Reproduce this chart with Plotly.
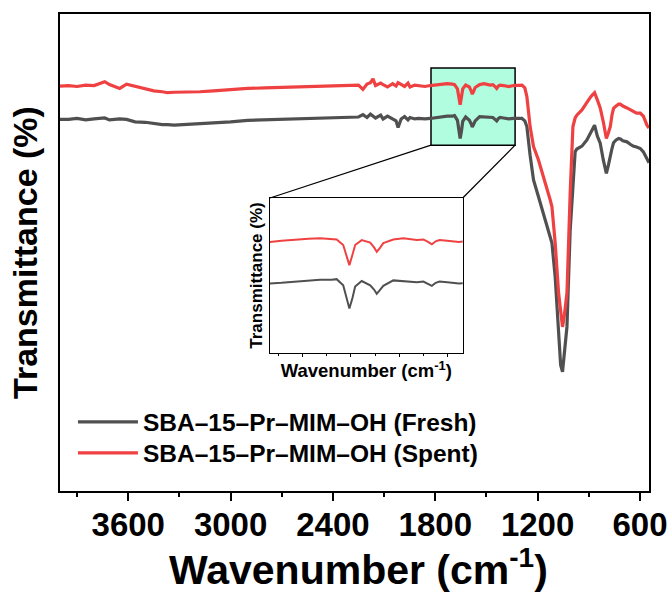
import plotly.graph_objects as go

# ---------------- data ----------------
wavenumber = [4000, 3950, 3900, 3850, 3800, 3760, 3738, 3710, 3680, 3650, 3610, 3560, 3500, 3450,
              3400, 3370, 3330, 3280, 3220, 3180, 3100, 3000, 2900, 2800, 2700, 2600, 2500, 2400,
              2300, 2250, 2224, 2200, 2180, 2165, 2150, 2120, 2106, 2080, 2050, 2030, 2018, 2000,
              1980, 1960, 1948, 1920, 1900, 1860, 1830, 1791, 1760, 1730, 1700, 1687, 1670, 1662,
              1654, 1646, 1639, 1622, 1600, 1590, 1583, 1575, 1566, 1540, 1514, 1479, 1462, 1450,
              1440, 1430, 1420, 1400, 1370, 1340, 1310, 1292, 1275, 1263, 1244, 1234, 1224, 1195,
              1146, 1126, 1116, 1097, 1077, 1065, 1054, 1043, 1028, 1009, 993, 980, 970, 940,
              911, 901, 885, 866, 850, 843, 833, 815, 797, 785, 774, 764, 755, 740,
              725, 715, 700, 676, 657, 640, 620, 598, 580, 559, 547]

fresh = [77.9, 77.9, 78.1, 77.8, 78.0, 78.1, 78.2, 77.8, 77.9, 78.0, 77.9, 77.4, 77.3, 77.0,
         76.8, 76.8, 76.7, 76.8, 76.9, 77.0, 77.2, 77.4, 77.7, 77.8, 77.9, 78.0, 78.0, 78.1,
         78.2, 78.4, 78.9, 78.3, 79.0, 78.5, 78.2, 78.8, 78.0, 78.6, 78.1, 77.6, 76.2, 78.0,
         78.5, 77.8, 78.3, 78.0, 78.1, 78.0, 78.1, 78.3, 78.5, 78.6, 78.6, 78.7, 77.7, 75.8,
         73.9, 75.6, 77.5, 78.4, 77.7, 77.0, 76.3, 76.9, 77.6, 78.5, 78.4, 78.2, 78.3, 77.9,
         77.6, 78.1, 78.3, 78.2, 78.0, 78.1, 78.1, 78.1, 77.6, 76.4, 70.4, 67.3, 65.2, 61.7,
         55.5, 53.3, 52.0, 44.9, 34.8, 26.4, 25.0, 28.5, 34.4, 54.7, 64.1, 71.1, 71.7, 72.3,
         73.6, 74.3, 75.5, 76.7, 74.4, 73.6, 72.9, 69.4, 66.6, 68.3, 70.4, 71.8, 73.0, 73.6,
         73.9, 73.8, 73.4, 73.2, 72.7, 72.3, 72.1, 71.8, 71.1, 69.4, 68.8]

spent = [84.9, 85.0, 84.8, 85.1, 85.0, 85.5, 85.8, 85.2, 84.8, 84.4, 85.3, 84.9, 84.3, 83.9,
         83.7, 83.5, 83.6, 83.6, 83.7, 83.7, 83.9, 84.2, 84.4, 84.5, 84.6, 84.7, 84.8, 84.9,
         85.0, 85.1, 84.2, 85.3, 85.6, 86.4, 85.0, 85.5, 85.2, 84.7, 85.4, 84.9, 85.6, 85.2,
         84.8, 85.5, 84.7, 85.1, 85.0, 84.8, 85.0, 85.1, 85.3, 85.4, 85.3, 85.2, 84.3, 82.6,
         81.0, 82.7, 84.3, 85.1, 84.7, 83.9, 83.2, 83.8, 84.6, 85.2, 85.4, 85.1, 85.2, 84.8,
         84.4, 84.9, 85.1, 85.0, 84.8, 85.0, 85.1, 85.1, 84.5, 82.7, 76.4, 74.2, 72.2, 69.4,
         63.8, 61.0, 59.6, 52.0, 41.5, 36.9, 34.4, 36.9, 41.5, 62.5, 76.4, 78.2, 78.8, 79.9,
         81.6, 82.0, 82.8, 83.5, 82.0, 81.3, 80.3, 77.4, 73.9, 75.1, 76.4, 78.8, 80.2, 80.7,
         81.1, 81.1, 80.7, 80.3, 79.9, 79.5, 79.2, 79.2, 78.6, 76.7, 76.1]

series_names = ["SBA\u201315\u2013Pr\u2013MIM\u2013OH (Fresh)", "SBA\u201315\u2013Pr\u2013MIM\u2013OH (Spent)"]
series_colors = ["#505050", "#ef4141"]

x_tick_values = [3600, 3000, 2400, 1800, 1200, 600]
x_tick_labels = ["3600", "3000", "2400", "1800", "1200", "600"]
x_title = "Wavenumber (cm<sup><span style='font-size:28px'>-1</span></sup>)"

# ---------------- axes / layout settings ----------------
X_RANGE = [4000, 547]
Y_RANGE = [0, 100]
ZOOM_X = [1825, 1332]      # highlighted region (wavenumber)
ZOOM_Y = [72.5, 88.7]      # highlighted region (transmittance)
INSET_X = [1860, 1360]
INSET_Y = [66.6, 92.0]
INSET_DOM_X = [0.3565, 0.6837]
INSET_DOM_Y = [0.2893, 0.6143]

FONT = "Liberation Sans, Arial, sans-serif"

fig = go.Figure()

legend_ids = ["legend", "legend2"]
for name, vals, col, lg in zip(series_names, [fresh, spent], series_colors, legend_ids):
    fig.add_trace(go.Scatter(x=wavenumber, y=vals, mode="lines", name=name, legend=lg,
                             line=dict(color=col, width=3.2), xaxis="x", yaxis="y"))
for name, vals, col in zip(series_names, [fresh, spent], series_colors):
    fig.add_trace(go.Scatter(x=wavenumber, y=vals, mode="lines", name=name, showlegend=False,
                             line=dict(color=col, width=2), xaxis="x2", yaxis="y2"))

def px_frac(wn):
    return (X_RANGE[0] - wn) / (X_RANGE[0] - X_RANGE[1])

def py_frac(t):
    return (t - Y_RANGE[0]) / (Y_RANGE[1] - Y_RANGE[0])

shapes = [
    dict(type="rect", xref="x", yref="y", x0=ZOOM_X[0], x1=ZOOM_X[1], y0=ZOOM_Y[0], y1=ZOOM_Y[1],
         fillcolor="#b0fde0", line=dict(color="black", width=1.5), layer="below"),
    dict(type="line", xref="paper", yref="paper",
         x0=px_frac(ZOOM_X[0]), y0=py_frac(ZOOM_Y[0]), x1=INSET_DOM_X[0], y1=INSET_DOM_Y[1],
         line=dict(color="black", width=1.2)),
    dict(type="line", xref="paper", yref="paper",
         x0=px_frac(ZOOM_X[1]), y0=py_frac(ZOOM_Y[0]), x1=INSET_DOM_X[1], y1=INSET_DOM_Y[1],
         line=dict(color="black", width=1.2)),
]

annotations = [
    dict(text=x_title, xref="paper", yref="paper", x=0.506, y=-0.16,
         xanchor="center", yanchor="middle", showarrow=False,
         font=dict(family=FONT, size=41, weight="bold", color="black")),
]

legend_font = dict(family=FONT, size=24.5, weight="bold", color="black")

fig.update_layout(
    width=671, height=595,
    margin=dict(l=60, r=22, t=14, b=104),
    paper_bgcolor="white", plot_bgcolor="white",
    font=dict(family=FONT, color="black"),
    shapes=shapes,
    annotations=annotations,
    showlegend=True,
    legend=dict(x=0.022, y=0.192, xanchor="left", yanchor="top",
                bgcolor="rgba(0,0,0,0)", itemwidth=60, font=legend_font),
    legend2=dict(x=0.022, y=0.127, xanchor="left", yanchor="top",
                 bgcolor="rgba(0,0,0,0)", itemwidth=60, font=legend_font),
    xaxis=dict(range=X_RANGE, autorange=False, domain=[0, 1], automargin=False,
               tickvals=x_tick_values, ticktext=x_tick_labels,
               ticks="outside", ticklen=8, tickwidth=2, tickcolor="black",
               ticklabelstandoff=-5,
               minor=dict(dtick=300, tick0=600, ticks="outside", ticklen=4, tickwidth=2, tickcolor="black"),
               showline=True, linecolor="black", linewidth=2, mirror=True,
               showgrid=False, zeroline=False,
               tickfont=dict(family=FONT, size=33, weight="bold", color="black")),
    yaxis=dict(range=Y_RANGE, autorange=False, domain=[0, 1], automargin=False,
               showticklabels=False, ticks="",
               showline=True, linecolor="black", linewidth=2, mirror=True,
               showgrid=False, zeroline=False,
               title=dict(text="Transmittance (%)", standoff=10,
                          font=dict(family=FONT, size=34, weight="bold", color="black"))),
    xaxis2=dict(range=INSET_X, autorange=False, domain=INSET_DOM_X, anchor="y2", automargin=False,
                dtick=125, tick0=1400, showticklabels=False,
                ticks="outside", ticklen=3, tickwidth=1, tickcolor="black",
                minor=dict(dtick=62.5, tick0=1400, ticks="outside", ticklen=2, tickwidth=1, tickcolor="black"),
                showline=True, linecolor="black", linewidth=1, mirror=True,
                showgrid=False, zeroline=False,
                title=dict(text="Wavenumber (cm<sup>-1</sup>)", standoff=8,
                           font=dict(family=FONT, size=18.5, weight="bold", color="black"))),
    yaxis2=dict(range=INSET_Y, autorange=False, domain=INSET_DOM_Y, anchor="x2", automargin=False,
                showticklabels=False, ticks="",
                showline=True, linecolor="black", linewidth=1, mirror=True,
                showgrid=False, zeroline=False,
                title=dict(text="Transmittance (%)", standoff=2,
                           font=dict(family=FONT, size=17, weight="bold", color="black"))),
)

fig.write_html("out.html")
